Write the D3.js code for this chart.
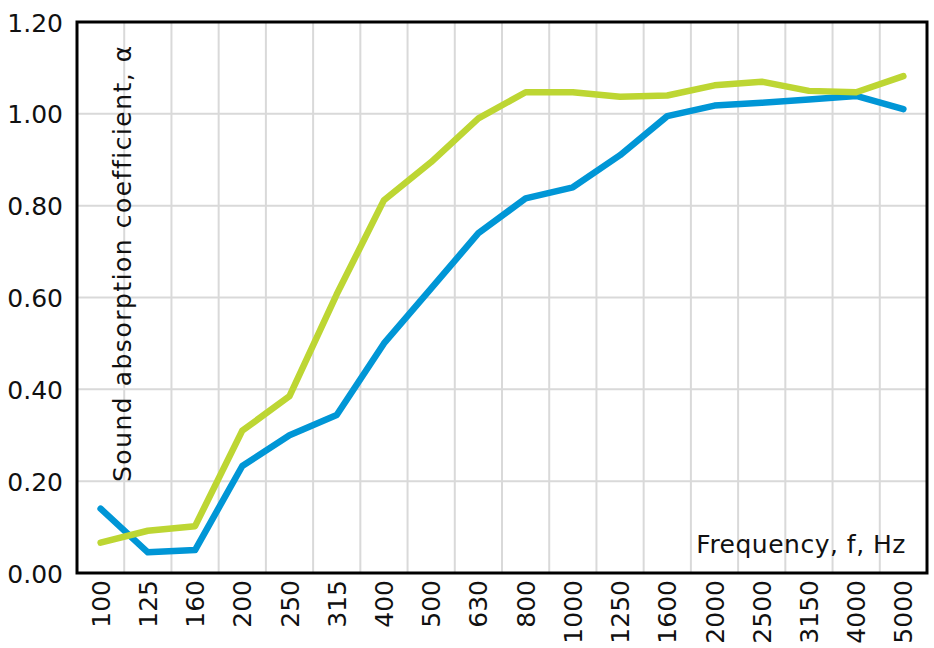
<!DOCTYPE html>
<html>
<head>
<meta charset="utf-8">
<script src="https://cdn.jsdelivr.net/npm/d3@7"></script>
<style>
  body { margin: 0; background: #fff; }
  text { font-family: "DejaVu Sans", sans-serif; fill: #111; }
</style>
</head>
<body>
<svg width="934" height="648"></svg>
<script>
var frequencies = ['100', '125', '160', '200', '250', '315', '400', '500', '630', '800',
  '1000', '1250', '1600', '2000', '2500', '3150', '4000', '5000']
var blueValues = [0.14, 0.045, 0.05, 0.233, 0.30, 0.344, 0.50, 0.62, 0.74, 0.816,
  0.84, 0.91, 0.995, 1.018, 1.024, 1.031, 1.039, 1.01]
var greenValues = [0.066, 0.092, 0.102, 0.31, 0.385, 0.607, 0.812, 0.895, 0.99, 1.047,
  1.047, 1.037, 1.04, 1.062, 1.07, 1.05, 1.047, 1.082]
var yTicks = [0, 0.2, 0.4, 0.6, 0.8, 1.0, 1.2]

var svg = d3.select('svg'),
  mLeft = 77, mRight = 927, mTop = 22, mBottom = 573

var x = d3.scaleBand().domain(frequencies).range([mLeft, mRight])
var y = d3.scaleLinear().domain([0, 1.2]).range([mBottom, mTop])

// grid
var grid = svg.append('g').attr('stroke', '#d9d9d9').attr('stroke-width', 2)
grid.selectAll('.vg')
  .data(frequencies.slice(1))
  .enter().append('line')
  .attr('x1', d => x(d)).attr('x2', d => x(d))
  .attr('y1', mTop).attr('y2', mBottom)
grid.selectAll('.hg')
  .data(yTicks.slice(1, -1))
  .enter().append('line')
  .attr('x1', mLeft).attr('x2', mRight)
  .attr('y1', d => y(d)).attr('y2', d => y(d))

// axes (labels only, frame drawn below)
var yAxis = svg.append('g')
  .attr('transform', 'translate(' + mLeft + ',0)')
  .call(d3.axisLeft(y).tickValues(yTicks).tickSize(0).tickPadding(14).tickFormat(d3.format('.2f')))
yAxis.select('.domain').remove()
yAxis.selectAll('text').style('font-size', '25px').attr('dy', '0.36em')

var xAxis = svg.append('g')
  .attr('transform', 'translate(0,' + mBottom + ')')
  .call(d3.axisBottom(x).tickSize(0).tickPadding(0))
xAxis.select('.domain').remove()
xAxis.selectAll('text')
  .style('font-size', '25px')
  .attr('text-anchor', 'end')
  .attr('transform', 'rotate(-90)')
  .attr('x', -7).attr('y', 0).attr('dy', '0.36em')

// lines
var line = d3.line()
  .x((d, i) => x(frequencies[i]) + x.bandwidth() / 2)
  .y(d => y(d))

svg.append('path').datum(blueValues)
  .attr('fill', 'none').attr('stroke', '#0096d6').attr('stroke-width', 6.5)
  .attr('stroke-linejoin', 'round').attr('stroke-linecap', 'round')
  .attr('d', line)
svg.append('path').datum(greenValues)
  .attr('fill', 'none').attr('stroke', '#bdd633').attr('stroke-width', 6.5)
  .attr('stroke-linejoin', 'round').attr('stroke-linecap', 'round')
  .attr('d', line)

// frame
svg.append('rect')
  .attr('x', mLeft).attr('y', mTop)
  .attr('width', mRight - mLeft).attr('height', mBottom - mTop)
  .attr('fill', 'none').attr('stroke', '#000').attr('stroke-width', 3)

// titles
svg.append('text')
  .attr('transform', 'translate(131,482) rotate(-90)')
  .style('font-size', '25px')
  .style('letter-spacing', '1.5px')
  .text('Sound absorption coefficient, α')
svg.append('text')
  .attr('x', 906).attr('y', 553)
  .attr('text-anchor', 'end')
  .style('font-size', '25px')
  .style('letter-spacing', '0.5px')
  .text('Frequency, f, Hz')
</script>
</body>
</html>
